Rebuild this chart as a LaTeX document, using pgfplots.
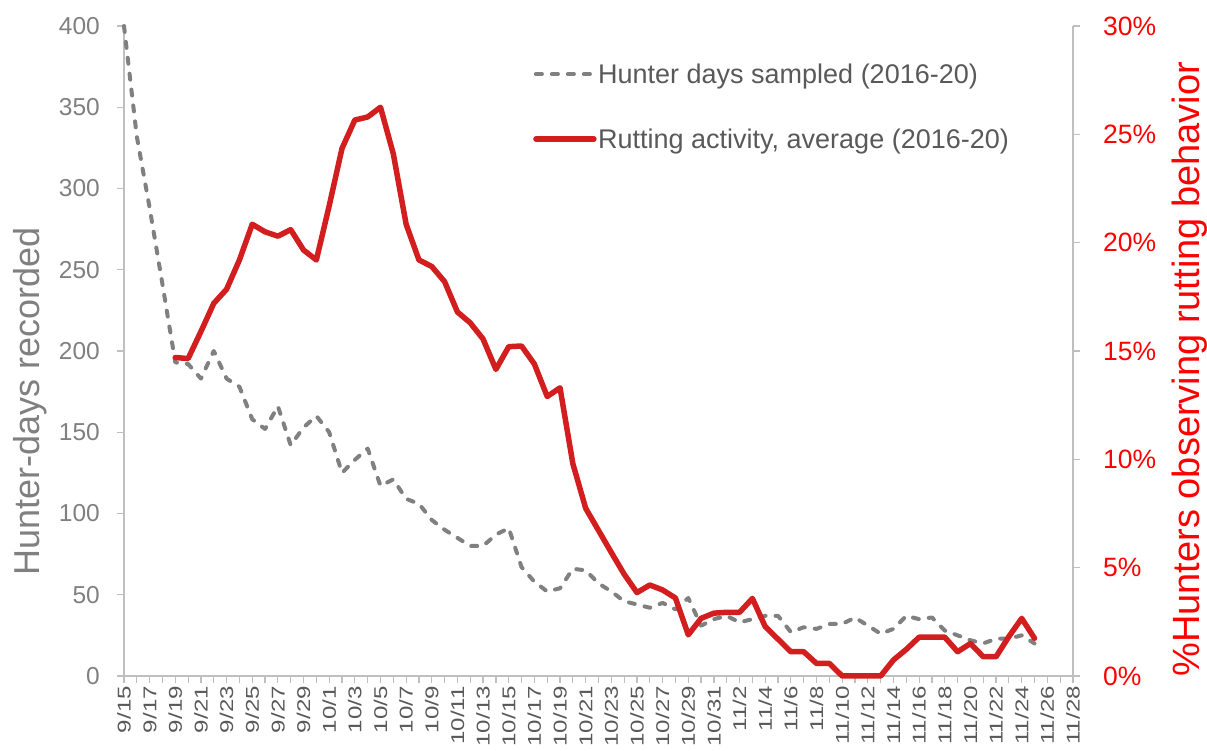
\documentclass[border=0pt]{standalone}
\usepackage{pgfplots}
\pgfplotsset{compat=1.18}
\usepackage{pgfplotstable}
\usepackage{fontspec}
\setmainfont{Liberation Sans}
\newfontfamily\xtickfont[FakeStretch=1.3]{Liberation Sans}
\definecolor{hgray}{RGB}{128,128,128}
\definecolor{rred}{RGB}{210,30,30}
\definecolor{axgray}{RGB}{191,191,191}
\definecolor{txtgray}{RGB}{89,89,89}
\definecolor{labred}{RGB}{255,0,0}

\pgfplotstableread{
x y
0 400
1 332
2 288
3 241
4 193
5 192
6 183
7 200
8 183
9 178
10 158
11 152
12 166
13 142
14 153
15 160
16 150
17 125
18 133
19 140
20 117
21 121
22 109
23 106
24 96
25 90
26 85
27 80
28 80
29 87
30 91
31 67
32 58
33 52
34 54
35 66
36 65
37 57
38 52
39 46
40 44
41 42
42 45
43 41
44 48
45 31
46 35
47 37
48 33
49 35
50 37
51 37
52 27
53 30
54 29
55 32
56 32
57 36
58 31
59 26
60 29
61 37
62 35
63 36
64 28
65 25
66 22
67 20
68 23
69 23
70 25
71 20
}\hunter

\pgfplotstableread{
x y
4 14.7
5 14.65
6 15.9
7 17.2
8 17.85
9 19.2
10 20.85
11 20.5
12 20.3
13 20.6
14 19.66
15 19.2
16 21.7
17 24.35
18 25.66
19 25.8
20 26.25
21 24.1
22 20.85
23 19.2
24 18.9
25 18.2
26 16.8
27 16.3
28 15.55
29 14.15
30 15.2
31 15.23
32 14.4
33 12.9
34 13.3
35 9.8
36 7.74
37 6.72
38 5.7
39 4.7
40 3.85
41 4.2
42 3.97
43 3.6
44 1.9
45 2.66
46 2.9
47 2.94
48 2.94
49 3.58
50 2.28
51 1.7
52 1.12
53 1.12
54 0.58
55 0.58
56 0
57 0
58 0
59 0
60 0.74
61 1.23
62 1.79
63 1.79
64 1.79
65 1.12
66 1.5
67 0.89
68 0.89
69 1.82
70 2.66
71 1.74
}\rut

\pgfplotsset{legend image code/.code={\draw[#1] (0pt,0pt) -- (58pt,0pt);}}

\begin{document}
\begin{tikzpicture}
\useasboundingbox (-124pt,-75pt) rectangle (1083pt,676pt);
\begin{axis}[
  scale only axis, width=949pt, height=650pt,
  xmin=0, xmax=74, ymin=0, ymax=400,
  axis x line=bottom, axis y line=left,
  axis line style={axgray, line width=1.5pt, -},
  tick align=outside,
  major tick length=7pt, minor tick length=7pt,
  tick style={axgray, line width=1.2pt},
  xtick={0,2,...,74}, minor xtick={1,3,...,73},
  xticklabels={9/15,9/17,9/19,9/21,9/23,9/25,9/27,9/29,10/1,10/3,10/5,10/7,10/9,10/11,10/13,10/15,10/17,10/19,10/21,10/23,10/25,10/27,10/29,10/31,11/2,11/4,11/6,11/8,11/10,11/12,11/14,11/16,11/18,11/20,11/22,11/24,11/26,11/28},
  xticklabel shift=3pt,
  xticklabel style={rotate=90, anchor=east, inner sep=0pt, font=\xtickfont\fontsize{18.5}{18.5}\selectfont, text=txtgray},
  ytick={0,50,...,400},
  yticklabels={0,50,100,150,200,250,300,350,400},
  yticklabel style={anchor=east, inner sep=0pt, xshift=-17pt, font=\fontsize{24.5}{24.5}\selectfont, text=hgray},
  ylabel={Hunter-days recorded},
  ylabel style={at={(axis description cs:-0.099,0.423)}, anchor=center, font=\fontsize{36}{36}\selectfont, text=hgray},
  legend style={draw=none, fill=none, at={(rel axis cs:0.4278,0.948)}, anchor=north west,
    font=\fontsize{27}{27}\selectfont, text=txtgray, row sep=41pt,
    nodes={inner sep=1.5pt}},
  legend cell align=left,
  clip=false,
]
\addplot[hgray, line width=4pt, line cap=round, line join=round, dash pattern=on 6pt off 10pt] table[x=x,y=y]{\hunter};
\addlegendentry{Hunter days sampled (2016-20)}
\addlegendimage{rred, line width=5.5pt, line cap=round, line join=round}
\addlegendentry{Rutting activity, average (2016-20)}
\end{axis}
\begin{axis}[
  scale only axis, width=949pt, height=650pt,
  xmin=0, xmax=74, ymin=0, ymax=30,
  axis x line=none, axis y line=right,
  axis line style={axgray, line width=1.5pt, -},
  tick align=outside,
  major tick length=7pt,
  tick style={axgray, line width=1.2pt},
  ytick={0,5,...,30},
  yticklabels={0\%,5\%,10\%,15\%,20\%,25\%,30\%},
  yticklabel style={anchor=west, inner sep=0pt, xshift=23pt, font=\fontsize{26.5}{26.5}\selectfont, text=labred},
  ylabel={\%Hunters observing rutting behavior},
  ylabel style={at={(axis description cs:1.1233,0.472)}, anchor=center, font=\fontsize{38}{38}\selectfont, text=labred},
  clip=false,
]
\addplot[rred, line width=5.5pt, line cap=round, line join=round] table[x=x,y=y]{\rut};
\end{axis}
\end{tikzpicture}
\end{document}
